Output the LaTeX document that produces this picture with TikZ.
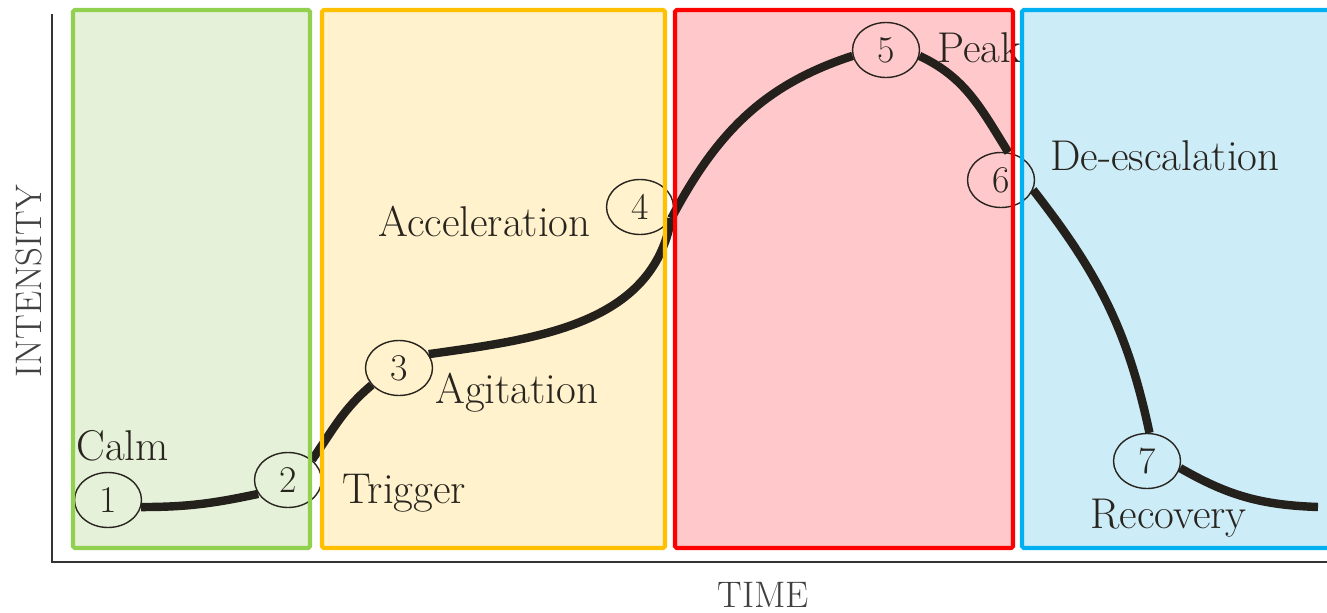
\documentclass[tikz,border=0pt]{standalone}
\usetikzlibrary{shapes.geometric, positioning}
\definecolor{calmgreen}{RGB}{146, 208, 80}
\definecolor{calmfill}{RGB}{230, 241, 217}
\definecolor{agitamber}{RGB}{255, 192, 0}
\definecolor{agitfill}{RGB}{255, 242, 204}
\definecolor{peakred}{RGB}{255, 0, 0}
\definecolor{peakfill}{RGB}{255, 201, 204}
\definecolor{recblue}{RGB}{0, 176, 240}
\definecolor{recfill}{RGB}{204, 236, 248}
\definecolor{inkgray}{RGB}{40, 36, 30}
\tikzset{
	phase/.style={line width=2.3pt, rounded corners=1pt},
	stage/.style={ellipse, draw=inkgray, line width=0.8pt, minimum width=1.34cm, minimum height=1.1cm, inner sep=0pt, text=inkgray, font=\fontsize{21.5}{24}\selectfont},
	tag/.style={anchor=base west, inner sep=0pt, text=inkgray, font=\fontsize{24.5}{28}\selectfont},
	curve/.style={line width=4.8pt, draw=inkgray!90!black},
	axis/.style={line width=0.9pt, draw=black!80},
}

\begin{document}
\begin{tikzpicture}[x=0.02cm, y=-0.02cm]
		\clip (0,0) rectangle (1327,612);
		\fill[white] (0,0) rectangle (1327,612);
		\foreach \xa/\xb/\col in {73/310/calmfill, 322/665/agitfill, 675/1013/peakfill, 1022/1340/recfill}
			\fill[\col] (\xa,10) rectangle (\xb,548);
		\draw[axis] (52,14) -- (52,562) -- (1327,562);
		\node[font=\fontsize{21}{24}\selectfont, text=black!75, rotate=90] (intensity) at (29,281) {INTENSITY};
		\node[font=\fontsize{21}{24}\selectfont, text=black!75, anchor=base] (time) at (763,607) {TIME};
		\node[stage] (s1) at (108,500) {1};
		\node[stage] (s2) at (288,480) {2};
		\node[stage] (s3) at (399,368) {3};
		\node[stage] (s4) at (640,207) {4};
		\node[stage] (s5) at (886,50) {5};
		\node[stage] (s6) at (1001,180) {6};
		\node[stage] (s7) at (1147,461) {7};
		\coordinate (tail) at (1318,507);
		\node[tag] (calm) at (76,460) {Calm};
		\node[tag] (trigger) at (342,503) {Trigger};
		\node[tag] (agitation) at (435,403) {Agitation};
		\node[tag] (acceleration) at (378,236) {Acceleration};
		\node[tag] (peak) at (937,62) {Peak};
		\node[tag] (deesc) at (1050,170) {De-escalation};
		\node[tag] (recovery) at (1090,528) {Recovery};
		\draw[curve] (s1.-12) to[out=0, in=192] (s2.205);
		\draw[curve] (s2.40) to[out=55, in=220] (s3.212);
		\draw[curve] (s3.25) to[out=8, in=-100] (s4.-20);
		\draw[curve] (s4.-20) to[out=62, in=198] (s5.190);
		\draw[curve] (s5.-10) to[out=-25, in=122] (s6.75);
		\draw[curve] (s6.-17) to[out=-52, in=102] (s7.85);
		\draw[curve] (s7.-12) to[out=-30, in=178] (tail);
		\draw[phase, draw=calmgreen] (73,10) rectangle (310,548);
		\draw[phase, draw=agitamber] (322,10) rectangle (665,548);
		\draw[phase, draw=peakred] (675,10) rectangle (1013,548);
		\draw[phase, draw=recblue] (1022,10) rectangle (1340,548);
	\end{tikzpicture}
\end{document}
